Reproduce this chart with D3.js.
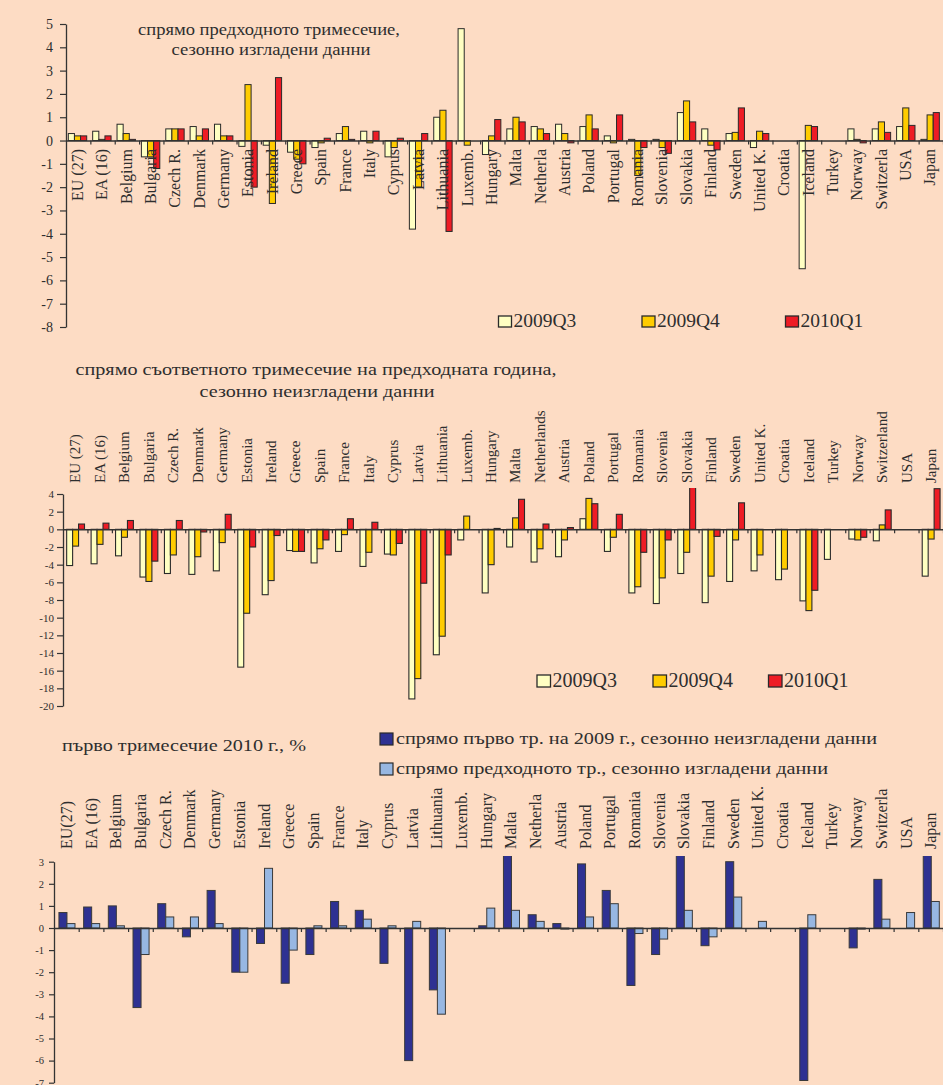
<!DOCTYPE html>
<html><head><meta charset="utf-8">
<script src="https://cdn.jsdelivr.net/npm/d3@7"></script>
<style>
html,body{margin:0;padding:0;background:#FDDCC4;}
svg{display:block;}
text{font-family:"Liberation Serif","Times New Roman",serif;fill:#2e2e2e;}
</style></head><body>
<svg id="c" width="943" height="1085"></svg>
<script>
// ---------- DATA ----------
const categoriesTop = ["EU (27)","EA (16)","Belgium","Bulgaria","Czech R.","Denmark","Germany","Estonia","Ireland","Greece","Spain","France","Italy","Cyprus","Latvia","Lithuania","Luxemb.","Hungary","Malta","Netherla","Austria","Poland","Portugal","Romania","Slovenia","Slovakia","Finland","Sweden","United K.","Croatia","Iceland","Turkey","Norway","Switzerla","USA","Japan"];
const categoriesMid = ["EU (27)","EA (16)","Belgium","Bulgaria","Czech R.","Denmark","Germany","Estonia","Ireland","Greece","Spain","France","Italy","Cyprus","Latvia","Lithuania","Luxemb.","Hungary","Malta","Netherlands","Austria","Poland","Portugal","Romania","Slovenia","Slovakia","Finland","Sweden","United K.","Croatia","Iceland","Turkey","Norway","Switzerland","USA","Japan"];
const categoriesBottom = ["EU(27)","EA (16)","Belgium","Bulgaria","Czech R.","Denmark","Germany","Estonia","Ireland","Greece","Spain","France","Italy","Cyprus","Latvia","Lithuania","Luxemb.","Hungary","Malta","Netherla","Austria","Poland","Portugal","Romania","Slovenia","Slovakia","Finland","Sweden","United K.","Croatia","Iceland","Turkey","Norway","Switzerla","USA","Japan"];

const seriesNames = ["2009Q3","2009Q4","2010Q1"];

// Panel 1: q-o-q, seasonally adjusted
const qoq2009Q3 = [0.3,0.4,0.7,-0.7,0.5,0.6,0.7,-0.25,-0.2,-0.5,-0.3,0.3,0.4,-0.7,-3.8,1.0,4.8,-0.6,0.5,0.6,0.7,0.6,0.2,0.05,0.05,1.2,0.5,0.3,-0.3,null,-5.5,null,0.5,0.5,0.6,0.05];
const qoq2009Q4 = [0.2,0.05,0.3,-0.7,0.5,0.2,0.2,2.4,-2.7,-0.8,-0.1,0.6,-0.1,-0.3,-2.0,1.3,-0.2,0.2,1.0,0.5,0.3,1.1,-0.1,-1.5,-0.3,1.7,-0.2,0.35,0.4,null,0.65,null,0.05,0.8,1.4,1.1];
const qoq2010Q1 = [0.2,0.2,0.05,-1.2,0.5,0.5,0.2,-2.0,2.7,-1.0,0.1,0.05,0.4,0.1,0.3,-3.9,null,0.9,0.8,0.3,-0.1,0.5,1.1,-0.3,-0.55,0.8,-0.4,1.4,0.3,null,0.6,null,-0.1,0.35,0.65,1.2];

// Panel 2: y-o-y, not seasonally adjusted
const yoy2009Q3 = [-4.1,-3.9,-3.0,-5.4,-5.0,-5.1,-4.7,-15.6,-7.4,-2.4,-3.8,-2.5,-4.2,-2.8,-19.2,-14.2,-1.2,-7.2,-2.0,-3.7,-3.1,1.2,-2.5,-7.2,-8.4,-5.0,-8.3,-5.9,-4.7,-5.7,-8.1,-3.4,-1.1,-1.3,null,-5.3];
const yoy2009Q4 = [-1.9,-1.7,-0.9,-5.9,-2.9,-3.1,-1.5,-9.5,-5.8,-2.5,-2.2,-0.6,-2.6,-2.9,-16.9,-12.1,1.5,-4.0,1.3,-2.2,-1.2,3.5,-0.9,-6.5,-5.5,-2.6,-5.3,-1.2,-2.9,-4.5,-9.2,null,-1.2,0.5,null,-1.1];
const yoy2010Q1 = [0.6,0.7,1.0,-3.6,1.0,-0.3,1.7,-2.0,-0.7,-2.5,-1.2,1.2,0.8,-1.6,-6.1,-2.9,null,0.1,3.4,0.6,0.2,2.9,1.7,-2.6,-1.2,4.8,-0.8,3.0,null,null,-6.9,null,-0.9,2.2,null,4.6];

// Panel 3: 2010Q1
const q1YearOnYear = [0.7,0.95,1.0,-3.6,1.1,-0.4,1.7,-2.0,-0.7,-2.5,-1.2,1.2,0.8,-1.6,-6.0,-2.8,null,0.1,3.4,0.6,0.2,2.9,1.7,-2.6,-1.2,4.7,-0.8,3.0,null,null,-6.9,null,-0.9,2.2,null,4.6];
const q1QuarterOnQuarter = [0.2,0.2,0.1,-1.2,0.5,0.5,0.2,-2.0,2.7,-1.0,0.1,0.1,0.4,0.1,0.3,-3.9,null,0.9,0.8,0.3,-0.05,0.5,1.1,-0.25,-0.5,0.8,-0.4,1.4,0.3,null,0.6,null,-0.05,0.4,0.7,1.2];

const ticksTop = d3.range(-8, 6);
const ticksMid = d3.range(-20, 5, 2);
const ticksBottom = d3.range(-7, 4);

const titleTop = ["спрямо предходното тримесечие,", "сезонно изгладени данни"];
const titleMid = ["спрямо съответното тримесечие на предходната година,", "сезонно неизгладени данни"];
const titleBottom = "първо тримесечие 2010 г., %";
const legendBottom = ["спрямо първо тр. на 2009 г., сезонно неизгладени данни", "спрямо предходното тр., сезонно изгладени данни"];

// ---------- STYLE ----------
const svg = d3.select("#c");
const AX = "#333";
const colors3 = ["#FFFFC2", "#FFCC00", "#EE1C25"];
const colors2 = ["#2E3192", "#97B7E2"];

function panel(o) {
  const g = svg.append("g");
  const n = o.cats.length;
  const xi = d3.scaleLinear().domain([0, n]).range([o.x0, o.x1]);
  const x = d3.scaleBand().domain(o.cats).range([o.x0, o.x1]).padding(0);
  const step = x.step();
  const xs = d3.scaleBand().domain(d3.range(o.series.length))
      .range([step * o.inner[0], step * o.inner[1]]).padding(0);
  const y = d3.scaleLinear().domain(o.yDomain).range(o.yRange);

  const clipId = "clip" + o.id;
  svg.append("clipPath").attr("id", clipId).append("rect")
     .attr("x", o.x0).attr("y", o.clipTop).attr("width", o.x1 - o.x0).attr("height", 1085 - o.clipTop);

  // bars
  const bars = g.append("g").attr("clip-path", `url(#${clipId})`);
  o.series.forEach((vals, si) => {
    bars.selectAll(null).data(vals.map((v, i) => ({v, c: o.cats[i]})).filter(d => d.v !== null))
      .enter().append("rect")
      .attr("x", d => x(d.c) + xs(si))
      .attr("width", xs.bandwidth())
      .attr("y", d => Math.min(y(d.v), y(0)))
      .attr("height", d => Math.max(0.8, Math.abs(y(d.v) - y(0))))
      .attr("fill", o.colors[si])
      .attr("stroke", o.stroke).attr("stroke-width", o.strokeW);
  });

  // y axis
  const ya = g.append("g").attr("transform", `translate(${o.x0},0)`)
    .call(d3.axisLeft(y).tickValues(o.ticks).tickSize(o.tickSize).tickPadding(o.tickPad).tickSizeOuter(0).tickFormat(d => String(d)));
  ya.select(".domain").attr("stroke", AX).attr("stroke-width", 1.3);
  ya.selectAll(".tick line").attr("stroke", AX).attr("stroke-width", 1.2);
  ya.selectAll(".tick text").attr("font-family", '"Liberation Serif","Times New Roman",serif')
    .attr("font-size", o.tickFont).attr("fill", "#333");

  // x axis at zero with boundary ticks
  const xa = g.append("g").attr("transform", `translate(0,${y(0)})`)
    .call(d3.axisBottom(xi).tickValues(d3.range(1, n + 1)).tickSize(4).tickSizeOuter(0).tickFormat(""));
  xa.select(".domain").attr("stroke", AX).attr("stroke-width", 1.5);
  xa.selectAll(".tick line").attr("stroke", AX).attr("stroke-width", 1.2);

  // category labels
  g.selectAll(null).data(o.cats).enter().append("text")
    .attr("transform", c => `translate(${x(c) + step / 2 + o.labelDx},${o.labelY}) rotate(-90)`)
    .attr("text-anchor", o.labelAnchor)
    .attr("dy", "0.35em")
    .attr("font-size", o.labelFont)
    .text(c => c);
  return {x, y};
}

// ---------- PANEL 1 ----------
panel({
  id: 1, cats: categoriesTop, series: [qoq2009Q3, qoq2009Q4, qoq2010Q1], colors: colors3,
  x0: 66, x1: 943, inner: [0.095, 0.85], yDomain: [-8, 5], yRange: [327, 24], clipTop: 0,
  ticks: ticksTop, tickSize: 6, tickPad: 7, tickFont: 14,
  stroke: "#2a2a2a", strokeW: 1, labelY: 149, labelAnchor: "end", labelFont: 16, labelDx: -1
});
svg.append("text").attr("x", 269).attr("y", 35).attr("text-anchor", "middle").attr("font-size", 16.5)
  .attr("textLength", 262).attr("lengthAdjust", "spacingAndGlyphs").text(titleTop[0]);
svg.append("text").attr("x", 271).attr("y", 55).attr("text-anchor", "middle").attr("font-size", 16.5)
  .attr("textLength", 199).attr("lengthAdjust", "spacingAndGlyphs").text(titleTop[1]);

function legend3(xs, yBox, w, h, font) {
  seriesNames.forEach((s, i) => {
    svg.append("rect").attr("x", xs[i]).attr("y", yBox).attr("width", w).attr("height", h)
      .attr("fill", colors3[i]).attr("stroke", "#2a2a2a").attr("stroke-width", 1.3);
    svg.append("text").attr("x", xs[i] + w + 2).attr("y", yBox + h).attr("font-size", font).text(s);
  });
}
legend3([498.5, 642, 785.5], 316, 13, 11, 19.5);

// ---------- PANEL 2 ----------
panel({
  id: 2, cats: categoriesMid, series: [yoy2009Q3, yoy2009Q4, yoy2010Q1], colors: colors3,
  x0: 63, x1: 943, inner: [0.15, 0.88], yDomain: [-20, 4], yRange: [706, 494], clipTop: 488,
  ticks: ticksMid, tickSize: 6, tickPad: 3, tickFont: 11,
  stroke: "#2a2a2a", strokeW: 1.1, labelY: 483, labelAnchor: "start", labelFont: 15, labelDx: 0
});
svg.append("text").attr("x", 316).attr("y", 375).attr("text-anchor", "middle").attr("font-size", 16.5)
  .attr("textLength", 481).attr("lengthAdjust", "spacingAndGlyphs").text(titleMid[0]);
svg.append("text").attr("x", 317).attr("y", 396.5).attr("text-anchor", "middle").attr("font-size", 16.5)
  .attr("textLength", 235).attr("lengthAdjust", "spacingAndGlyphs").text(titleMid[1]);
legend3([537, 653, 768.5], 675, 13.5, 12, 20);

// ---------- PANEL 3 ----------
panel({
  id: 3, cats: categoriesBottom, series: [q1YearOnYear, q1QuarterOnQuarter], colors: colors2,
  x0: 54, x1: 943, inner: [0.2, 0.85], yDomain: [-7, 3], yRange: [1082.7, 861.7], clipTop: 856,
  ticks: ticksBottom, tickSize: 5, tickPad: 5, tickFont: 10.5,
  stroke: "#3a3a3a", strokeW: 1, labelY: 849, labelAnchor: "start", labelFont: 16, labelDx: 0
});
svg.append("text").attr("x", 62).attr("y", 750.5).attr("font-size", 16)
  .attr("textLength", 244).attr("lengthAdjust", "spacingAndGlyphs").text(titleBottom);
legendBottom.forEach((t, i) => {
  const yb = i === 0 ? 733 : 763;
  svg.append("rect").attr("x", 380).attr("y", yb).attr("width", 13).attr("height", 12)
    .attr("fill", colors2[i]).attr("stroke", "#2a2a2a").attr("stroke-width", 1.2);
  svg.append("text").attr("x", 396).attr("y", yb + 11).attr("font-size", 16)
    .attr("textLength", i === 0 ? 481 : 432).attr("lengthAdjust", "spacingAndGlyphs").text(t);
});
</script>
</body></html>
